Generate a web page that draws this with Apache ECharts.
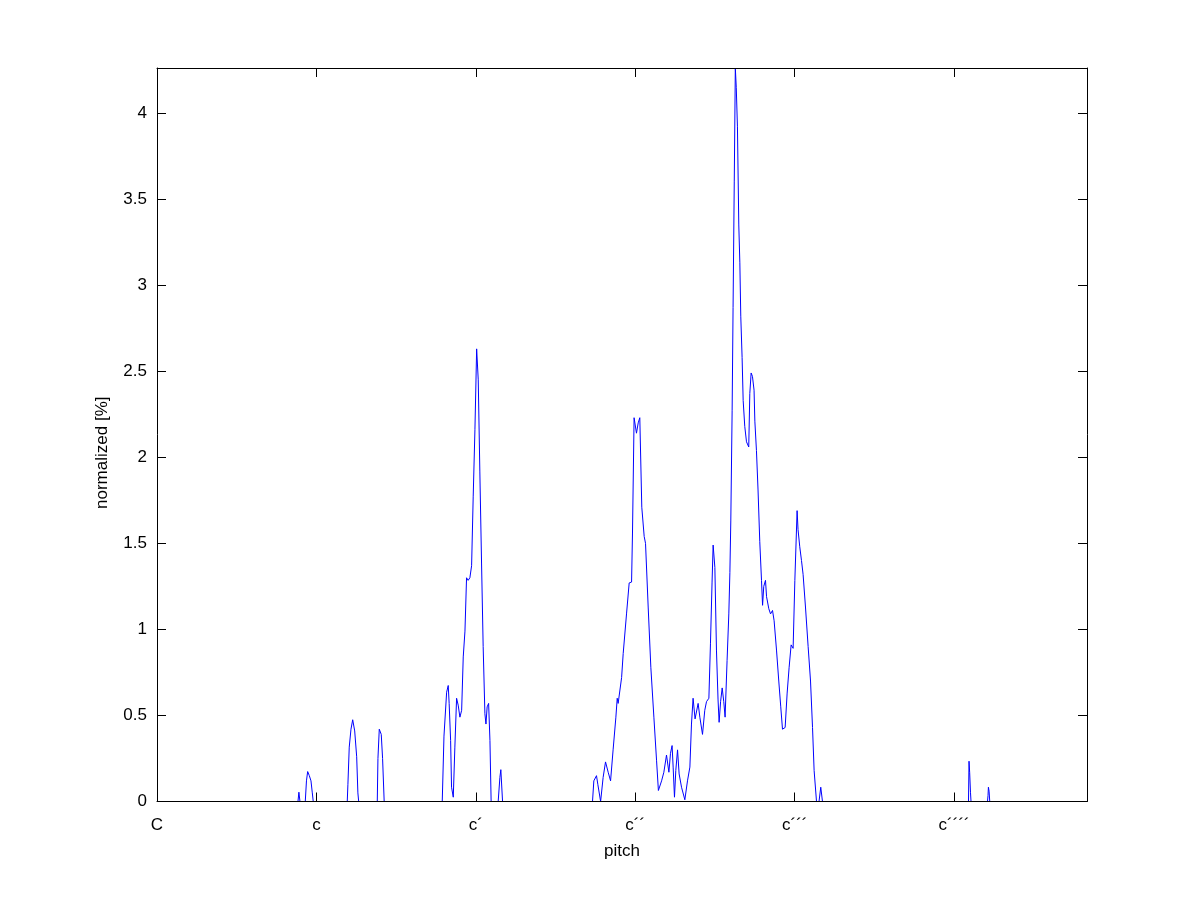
<!DOCTYPE html>
<html>
<head>
<meta charset="utf-8">
<script src="https://cdn.jsdelivr.net/npm/echarts@6/dist/echarts.min.js"></script>
<style>
html,body{margin:0;padding:0;background:#fff;}
#chart{width:1201px;height:901px;}
</style>
</head>
<body>
<div id="chart"></div>
<script>
// pitch in semitones above C (C=0, c=12, c´=24, ...)
const pitchX = [
  0, 10.61, 10.68, 10.76,
  11.16, 11.25, 11.34, 11.46, 11.59, 11.69, 11.76,
  14.32, 14.37, 14.47, 14.60, 14.73, 14.88, 15.03, 15.12, 15.18,
  16.58, 16.63, 16.73, 16.88, 16.98, 17.10,
  21.47, 21.60, 21.80, 21.92, 21.99, 22.10, 22.17, 22.30, 22.42, 22.55, 22.67, 22.80, 22.93,
  23.05, 23.18, 23.30, 23.42, 23.55, 23.68, 23.80, 23.93, 24.06, 24.18, 24.30, 24.43, 24.55,
  24.68, 24.76, 24.85, 24.96, 25.06, 25.15,
  25.68, 25.81, 25.88, 26.01,
  32.78, 32.88, 33.08, 33.18, 33.39, 33.58, 33.76, 33.96, 34.14, 34.33, 34.54, 34.64, 34.71,
  34.97, 35.09, 35.34, 35.54, 35.72, 35.79, 35.91, 36.09, 36.22, 36.34, 36.49, 36.67, 36.77,
  36.97, 37.17, 37.40, 37.60, 37.74, 37.98, 38.15, 38.35, 38.53, 38.65, 38.77, 38.85, 38.95,
  39.05, 39.18, 39.30, 39.48, 39.73, 39.93, 40.11, 40.23, 40.35, 40.50, 40.73, 40.86, 41.06,
  41.23, 41.36, 41.54, 41.66, 41.78, 41.86, 41.99, 42.11, 42.23, 42.31, 42.42, 42.54, 42.66,
  42.76, 42.91, 43.04, 43.12, 43.19, 43.29, 43.36, 43.45, 43.53, 43.60, 43.69, 43.79, 43.87,
  43.94, 44.04, 44.12, 44.24, 44.37, 44.54, 44.62, 44.72, 44.82, 44.94, 45.00, 45.12, 45.24,
  45.37, 45.50, 45.58, 45.67, 45.80, 45.88, 46.05, 46.18, 46.33, 46.45, 46.63, 46.80, 46.95,
  47.08, 47.28, 47.43, 47.58, 47.73, 47.88, 48.01, 48.18, 48.25, 48.38, 48.51, 48.63, 48.81,
  49.01, 49.19, 49.34, 49.46, 49.64, 49.83, 49.96, 50.09,
  61.08, 61.12, 61.17, 61.23, 61.27,
  62.51, 62.55, 62.58, 62.63, 62.68,
  70
];
const normalized = [
  0, 0, 0.054, 0,
  0, 0.12, 0.174, 0.151, 0.12, 0.05, 0,
  0, 0.10, 0.316, 0.42, 0.475, 0.41, 0.26, 0.05, 0,
  0, 0.25, 0.42, 0.39, 0.25, 0,
  0, 0.38, 0.635, 0.674, 0.57, 0.355, 0.083, 0.025, 0.316, 0.60, 0.56, 0.49, 0.53,
  0.84, 0.99, 1.30, 1.285, 1.30, 1.37, 1.77, 2.16, 2.63, 2.45, 1.92, 1.38, 0.90,
  0.51, 0.45, 0.55, 0.57, 0.355, 0,
  0, 0.14, 0.185, 0,
  0, 0.12, 0.15, 0.10, 0, 0.14, 0.23, 0.17, 0.12, 0.30, 0.49, 0.60, 0.57,
  0.72, 0.86, 1.09, 1.27, 1.275, 1.56, 2.23, 2.14, 2.20, 2.23, 1.71, 1.54, 1.50,
  1.13, 0.78, 0.49, 0.24, 0.064, 0.12, 0.17, 0.27, 0.17, 0.28, 0.325, 0.20, 0.025,
  0.18, 0.30, 0.16, 0.083, 0.01, 0.12, 0.20, 0.45, 0.60, 0.48, 0.57, 0.49, 0.39,
  0.53, 0.58, 0.60, 0.92, 1.275, 1.49, 1.36, 0.88, 0.59, 0.46, 0.58, 0.66, 0.58,
  0.49, 0.82, 1.09, 1.33, 1.63, 2.27, 2.87, 3.6, 4.262, 4.15, 3.92, 3.35, 3.13,
  2.82, 2.58, 2.33, 2.18, 2.09, 2.06, 2.37, 2.49, 2.47, 2.39, 2.21, 2.04, 1.81,
  1.51, 1.285, 1.14, 1.25, 1.285, 1.19, 1.12, 1.09, 1.11, 1.05, 0.88, 0.70, 0.55,
  0.42, 0.43, 0.63, 0.78, 0.91, 0.89, 1.285, 1.69, 1.58, 1.48, 1.40, 1.32, 1.13,
  0.90, 0.70, 0.43, 0.18, 0, 0, 0.083, 0,
  0, 0.234, 0.167, 0.054, 0,
  0, 0.035, 0.083, 0.06, 0,
  0
];
const octaveTicks = [0, 12, 24, 36, 48, 60];
const octaveLabels = ['C', 'c', 'c\u00B4', 'c\u00B4\u00B4', 'c\u00B4\u00B4\u00B4', 'c\u00B4\u00B4\u00B4\u00B4'];
const yMax = 4.262;

const seriesData = pitchX.map((x, i) => [x, normalized[i]]);
const FONT = 'Liberation Sans, Arial, sans-serif';
const txt = { color: '#000', fontFamily: FONT, fontSize: 17 };

const chart = echarts.init(document.getElementById('chart'), null, { renderer: 'canvas' });
const xLabel = v => {
  const i = octaveTicks.indexOf(Math.round(v));
  return (i >= 0 && Math.abs(v - octaveTicks[i]) < 1e-6) ? octaveLabels[i] : '';
};
const yLabel = v => (Math.abs(v * 2 - Math.round(v * 2)) < 1e-6 ? String(v) : '');
const axLine = { show: true, lineStyle: { color: '#000', width: 1 } };
const tick = { show: true, inside: true, length: 9, lineStyle: { color: '#000', width: 1 } };

chart.setOption({
  animation: false,
  backgroundColor: '#fff',
  grid: { left: 157, top: 68, width: 930, height: 733.5, containLabel: false },
  xAxis: [
    {
      type: 'value', position: 'bottom', min: 0, max: 70, interval: 12, zlevel: 1, z: 5,
      name: 'pitch', nameLocation: 'middle', nameGap: 41,
      nameTextStyle: txt,
      axisLine: Object.assign({ onZero: false }, axLine), axisTick: tick,
      axisLabel: Object.assign({ formatter: xLabel, margin: 15, showMaxLabel: false }, txt),
      splitLine: { show: false }
    },
    {
      type: 'value', position: 'top', min: 0, max: 70, interval: 12, z: 5,
      axisLine: Object.assign({ onZero: false }, axLine), axisTick: tick,
      axisLabel: { show: false }, splitLine: { show: false }
    }
  ],
  yAxis: [
    {
      type: 'value', position: 'left', min: 0, max: yMax, interval: 0.5, z: 5,
      name: 'normalized [%]', nameLocation: 'middle', nameGap: 46,
      nameTextStyle: Object.assign({ padding: [0, 36, 0, 0] }, txt),
      axisLine: Object.assign({ onZero: false }, axLine), axisTick: tick,
      axisLabel: Object.assign({ formatter: yLabel, margin: 10, showMaxLabel: false }, txt),
      splitLine: { show: false }
    },
    {
      type: 'value', position: 'right', min: 0, max: yMax, interval: 0.5, z: 5,
      axisLine: Object.assign({ onZero: false }, axLine), axisTick: tick,
      axisLabel: { show: false }, splitLine: { show: false }
    }
  ],
  series: [{
    type: 'line',
    data: seriesData,
    xAxisIndex: 0, yAxisIndex: 0,
    showSymbol: false, symbol: 'none',
    lineStyle: { color: '#0000ff', width: 1 },
    z: 2
  }]
});
</script>
</body>
</html>
